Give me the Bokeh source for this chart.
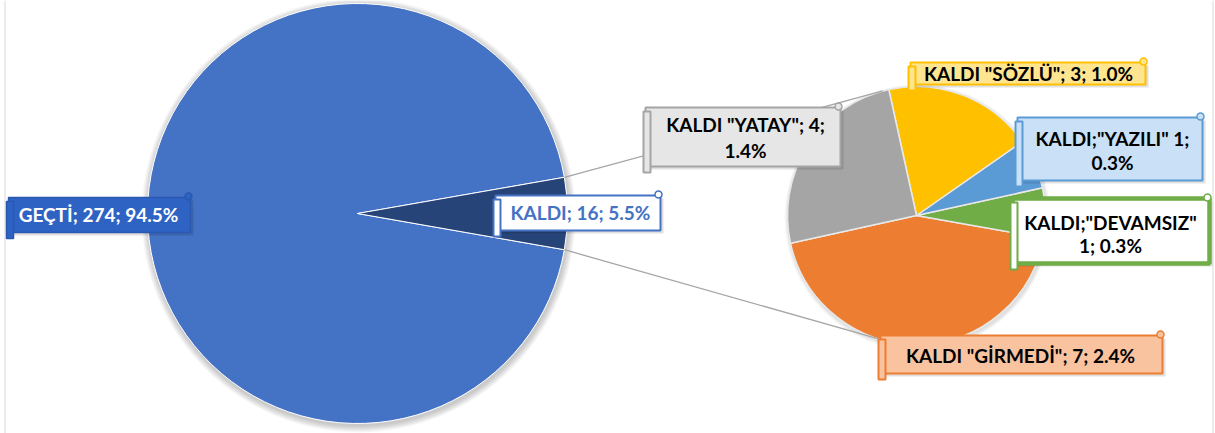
import math
from bokeh.plotting import figure
from bokeh.embed import file_html
from bokeh.resources import INLINE
from bokeh.core.properties import value
from bokeh.models import Range1d

# ---------------- data ----------------
main_categories = ["GEÇTİ", "KALDI"]
main_values = [274, 16]
main_colors = ["#4472c4", "#264478"]

sub_categories = ['KALDI "GİRMEDİ"', 'KALDI;"DEVAMSIZ"', 'KALDI;"YAZILI"', 'KALDI "SÖZLÜ"', 'KALDI "YATAY"']
sub_values = [7, 1, 1, 3, 4]
sub_colors = ["#ed7d31", "#70ad47", "#5b9bd5", "#ffc000", "#a5a5a5"]

total = sum(main_values)


def pct(v):
    return f"{100 * v / total:.1f}%"


# ---------------- figure ----------------
W, H = 1215, 433
p = figure(width=W, height=H, x_range=Range1d(0, W), y_range=Range1d(0, H),
           output_backend="svg", toolbar_location=None, min_border=0)
p.axis.visible = False
p.grid.visible = False
p.outline_line_color = None
p.background_fill_color = "white"


def Y(y):
    return H - y


FONT = value("Lato")
FS = "19px"

# chart frame (left and right edges visible)
for fx in (4.5, 1212.5):
    p.line(x=[fx, fx], y=[0, H], line_color="#d9d9d9", line_width=1)

# main pie
c1x, c1y, r1 = 357, Y(213), 210
half = math.pi * main_values[1] / total
for k in range(7, 0, -1):
    p.circle(x=[c1x + 1], y=[c1y - 2], radius=r1 + k, fill_color="black", fill_alpha=0.03, line_color=None)
p.wedge(x=[c1x, c1x], y=[c1y, c1y], radius=r1,
        start_angle=[half, -half], end_angle=[2 * math.pi - half, half],
        fill_color=main_colors, line_color="white", line_width=1)

# secondary pie
c2x, c2y, r2 = 916, Y(215), 129
sub_total = sum(sub_values)
a = math.radians(192.4)
starts, ends = [], []
for v in sub_values:
    starts.append(a)
    a += 2 * math.pi * v / sub_total
    ends.append(a)
for k in range(4, 0, -1):
    p.circle(x=[c2x + 1], y=[c2y - 2], radius=r2 + k, fill_color="black", fill_alpha=0.03, line_color=None)
p.wedge(x=[c2x] * len(sub_values), y=[c2y] * len(sub_values), radius=r2,
        start_angle=starts, end_angle=ends, fill_color=sub_colors,
        line_color="#e8e8e8", line_width=1.5)

# connector (tangent) lines
for sgn in (1, -1):
    px = c1x + r1 * math.cos(half)
    py = c1y + sgn * r1 * math.sin(half)
    dx, dy = px - c2x, py - c2y
    D = math.hypot(dx, dy)
    phi = math.atan2(dy, dx)
    t = phi - sgn * math.acos(r2 / D)
    p.line(x=[px, c2x + r2 * math.cos(t)], y=[py, c2y + r2 * math.sin(t)],
           line_color="#a6a6a6", line_width=1.3)

# ---------------- labels ----------------
labels = [
    dict(box=(8, 197, 190, 232), fill="#2e63c4", line="#2a58b0", lw=1.5, color="white", cx=98,
         lines=[f"{main_categories[0]}; {main_values[0]}; {pct(main_values[0])}"], cy=[214]),
    dict(box=(495, 195, 660, 230), fill="white", line="#4472c4", lw=2, color="#4472c4", cx=580,
         lines=[f"{main_categories[1]}; {main_values[1]}; {pct(main_values[1])}"], cy=[212]),
    dict(box=(645, 107, 840, 166), fill="#e6e6e6", line="#a5a5a5", lw=2, color="black", cx=745,
         lines=[f"{sub_categories[4]}; {sub_values[4]};", pct(sub_values[4])], cy=[124, 150]),
    dict(box=(910, 62, 1145, 84), fill="#ffe58f", line="#ffc000", lw=2, color="black", cx=1028,
         lines=[f"{sub_categories[3]}; {sub_values[3]}; {pct(sub_values[3])}"], cy=[73]),
    dict(box=(1017, 117, 1202, 180), fill="#c9e0f6", line="#5b9bd5", lw=2, color="black", cx=1112,
         lines=[f"{sub_categories[2]} {sub_values[2]};", pct(sub_values[2])], cy=[138, 162]),
    dict(box=(1012, 198, 1209, 263), fill="white", line="#70ad47", lw=4.5, color="black", cx=1110,
         lines=[sub_categories[1], f"{sub_values[1]}; {pct(sub_values[1])}"], cy=[222, 245]),
    dict(box=(880, 335, 1162, 373), fill="#f9c3a0", line="#ed7d31", lw=2, color="black", cx=1020,
         lines=[f"{sub_categories[0]}; {sub_values[0]}; {pct(sub_values[0])}"], cy=[355]),
]

for L in labels:
    x0, y0, x1, y1 = L["box"]
    # shadow
    p.quad(left=[x0 + 2], right=[x1 + 3], top=[Y(y0 + 3)], bottom=[Y(y1 + 3)],
           fill_color="black", fill_alpha=0.12, line_color=None)
    p.quad(left=[x0], right=[x1], top=[Y(y0)], bottom=[Y(y1)],
           fill_color=L["fill"], line_color=L["line"], line_width=L["lw"])
    # scroll roll on the left and curl on the top right
    p.quad(left=[x0 - 2], right=[x0 + 5], top=[Y(y0 + 4)], bottom=[Y(y1 + 6)],
           fill_color=L["fill"], line_color=L["line"], line_width=min(L["lw"], 2))
    p.circle(x=[x1 - 2], y=[Y(y0 - 1)], radius=3.5, fill_color=L["fill"],
             line_color=L["line"], line_width=1.5)
    p.text(x=[L["cx"]] * len(L["lines"]), y=[Y(c) for c in L["cy"]], text=L["lines"],
           text_align="center", text_baseline="middle", text_font=FONT,
           text_font_size=FS, text_font_style="bold", text_color=L["color"])

open("out.html", "w").write(file_html(p, INLINE))
